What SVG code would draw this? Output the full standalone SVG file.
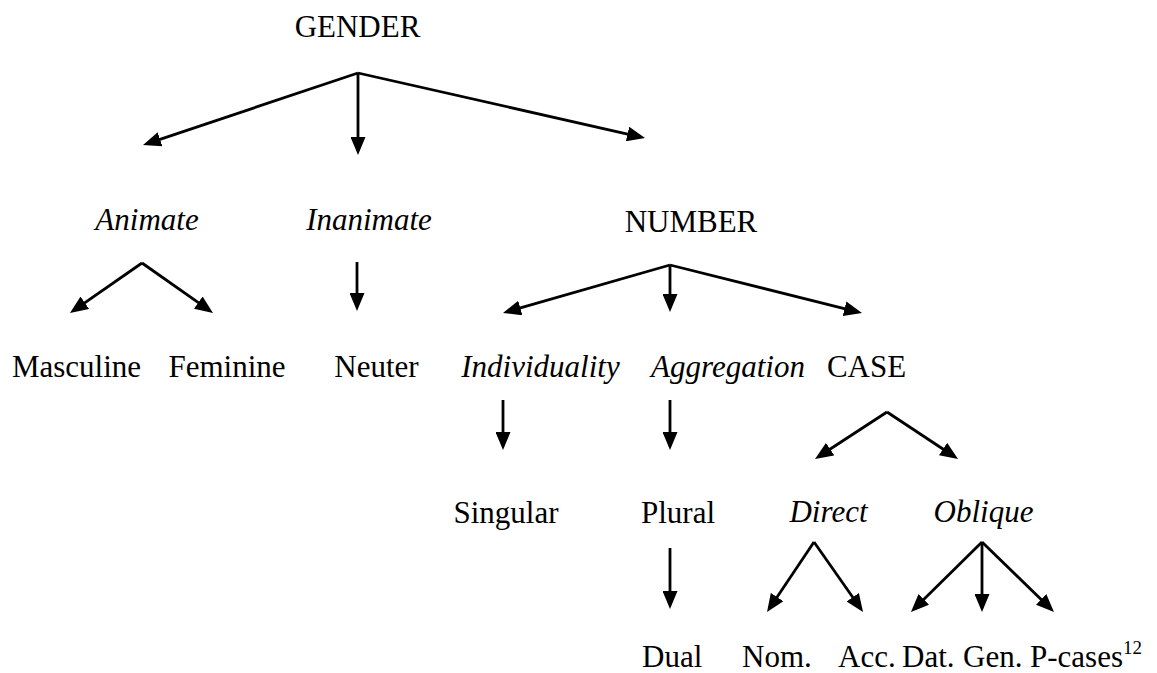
<svg xmlns="http://www.w3.org/2000/svg" width="1157" height="673" viewBox="0 0 1157 673">
<style>
text{font-family:"Liberation Serif","Times New Roman",serif;font-size:31px;fill:#000;text-anchor:middle}
.i{font-style:italic}
.s{text-anchor:start}
.c line{stroke:#000;stroke-width:2.8;marker-end:url(#ah)}
</style>
<defs>
<marker id="ah" viewBox="0 0 18 15" refX="8" refY="7.5" markerWidth="18" markerHeight="15" markerUnits="userSpaceOnUse" orient="auto">
<path d="M0,0 L18,7.5 L0,15 z" fill="#000"/>
</marker>
</defs>
<rect width="1157" height="673" fill="#fff"/>
<g id="gender"><text x="357.5" y="37">GENDER</text></g>
<g id="animate"><text class="i" x="147" y="230">Animate</text></g>
<g id="inanimate"><text class="i" x="369" y="230">Inanimate</text></g>
<g id="number"><text x="691" y="232">NUMBER</text></g>
<g id="masculine"><text x="76.5" y="377">Masculine</text></g>
<g id="feminine"><text x="227" y="377">Feminine</text></g>
<g id="neuter"><text x="376.5" y="377">Neuter</text></g>
<g id="individuality"><text class="i" x="540.5" y="377">Individuality</text></g>
<g id="aggregation"><text class="i" x="728" y="377">Aggregation</text></g>
<g id="case"><text x="866.5" y="377">CASE</text></g>
<g id="singular"><text x="506" y="523">Singular</text></g>
<g id="plural"><text x="678" y="523">Plural</text></g>
<g id="direct"><text class="i" x="828.5" y="522">Direct</text></g>
<g id="oblique"><text class="i" x="983.5" y="522">Oblique</text></g>
<g id="dual"><text class="s" x="642" y="667">Dual</text></g>
<g id="nom"><text class="s" x="742" y="667">Nom.</text></g>
<g id="acc"><text class="s" x="838" y="667">Acc.</text></g>
<g id="dat"><text class="s" x="902" y="667">Dat.</text></g>
<g id="gen"><text class="s" x="963" y="667">Gen.</text></g>
<g id="pcases"><text class="s" x="1030" y="667">P-cases<tspan font-size="19" dy="-13">12</tspan></text></g>
<g id="connectors" class="c">
<line x1="358" y1="73" x2="152.5" y2="141.8"/>
<line x1="358" y1="73" x2="358" y2="145"/>
<line x1="358" y1="73" x2="635.3" y2="135.8"/>
<line x1="142" y1="263" x2="78.2" y2="307.3"/>
<line x1="142" y1="263" x2="204.8" y2="307.2"/>
<line x1="357" y1="262" x2="357" y2="301"/>
<line x1="670" y1="265" x2="512.6" y2="310.2"/>
<line x1="670" y1="265" x2="670" y2="302"/>
<line x1="670" y1="265" x2="852.3" y2="310.6"/>
<line x1="503" y1="400" x2="503" y2="440"/>
<line x1="670" y1="400" x2="670" y2="440"/>
<line x1="887" y1="412" x2="823.4" y2="453.5"/>
<line x1="887" y1="412" x2="949.7" y2="453.5"/>
<line x1="670" y1="548" x2="670" y2="599"/>
<line x1="814" y1="542" x2="772.6" y2="603.7"/>
<line x1="814" y1="542" x2="857.3" y2="603.8"/>
<line x1="982" y1="542" x2="918.1" y2="605"/>
<line x1="982" y1="542" x2="982" y2="602"/>
<line x1="982" y1="542" x2="1046.8" y2="605"/>
</g>
</svg>
